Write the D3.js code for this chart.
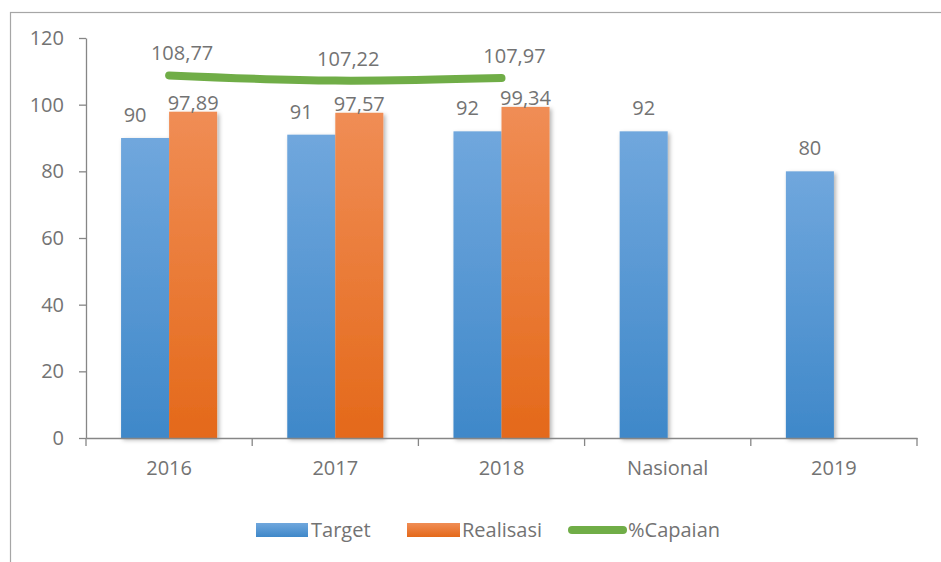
<!DOCTYPE html>
<html lang="id">
<head>
  <meta charset="UTF-8">
  <title>Target, Realisasi dan %Capaian</title>
  <script src="https://d3js.org/d3.v7.min.js"></script>
  <style>
    html, body { margin: 0; padding: 0; background: #fff; }
    svg text { font-family: "Open Sans", "Noto Sans", sans-serif; fill: #737373; }
  </style>
</head>
<body>
  <svg id="chart" width="941" height="562"></svg>
  <script>
    // data
    const categories = ['2016', '2017', '2018', 'Nasional', '2019'];
    const target = [90, 91, 92, 92, 80];
    const realisasi = [97.89, 97.57, 99.34, null, null];
    const capaian = [108.77, 107.22, 107.97, null, null];
    const yTicks = [0, 20, 40, 60, 80, 100, 120];
    const seriesNames = ['Target', 'Realisasi', '%Capaian'];

    const svg = d3.select('#chart');
    const plotLeft = 86, plotRight = 917, plotTop = 38, plotBottom = 438;
    const fs = 20;

    const locale = d3.formatLocale({ decimal: ',', thousands: '.', grouping: [3], currency: ['', ''] });
    const f2 = locale.format('.2f');
    const fmt = v => Number.isInteger(v) ? String(v) : f2(v);

    // bingkai grafik (terpotong di kanan dan bawah)
    svg.append('rect')
      .attr('x', 10.5).attr('y', 12.5).attr('width', 1000).attr('height', 1000)
      .attr('fill', 'none').attr('stroke', '#a6a6a6').attr('stroke-width', 1.2);

    const defs = svg.append('defs');
    const grad = (id, c1, c2) => {
      const g = defs.append('linearGradient').attr('id', id)
        .attr('x1', 0).attr('y1', 0).attr('x2', 0).attr('y2', 1);
      g.append('stop').attr('offset', '0%').attr('stop-color', c1);
      g.append('stop').attr('offset', '100%').attr('stop-color', c2);
    };
    grad('gBlue', '#70a7dd', '#3f88c9');
    grad('gOrange', '#f08d55', '#e4691a');
    defs.append('filter').attr('id', 'shadow')
      .attr('x', '-20%').attr('y', '-10%').attr('width', '150%').attr('height', '130%')
      .append('feDropShadow')
      .attr('dx', 2).attr('dy', 2).attr('stdDeviation', 2.2)
      .attr('flood-color', '#000').attr('flood-opacity', 0.3);

    const x0 = d3.scaleBand().domain(categories).range([plotLeft, plotRight]);
    const x1 = d3.scaleBand().domain(['t', 'r']).range([0, x0.bandwidth()])
      .paddingInner(0).paddingOuter(0.73);
    const y = d3.scaleLinear().domain([0, 120]).range([plotBottom, plotTop]);

    // sumbu Y
    const yAxis = svg.append('g')
      .attr('transform', `translate(${plotLeft},0)`)
      .call(d3.axisLeft(y).tickValues(yTicks).tickSize(7).tickSizeOuter(0).tickPadding(15));
    yAxis.select('.domain').attr('stroke', '#868686').attr('stroke-width', 1.3);
    yAxis.selectAll('.tick line').attr('stroke', '#868686').attr('stroke-width', 1.3);
    yAxis.selectAll('.tick text').attr('font-size', fs).attr('fill', '#737373')
      .style('font-family', '"Open Sans", sans-serif');

    // batang
    const rows = categories.map((c, i) => ({ c, t: target[i], r: realisasi[i] }));
    const gBars = svg.append('g').attr('filter', 'url(#shadow)');
    gBars.selectAll('rect.t').data(rows).join('rect').attr('class', 't')
      .attr('x', d => x0(d.c) + x1('t')).attr('width', x1.bandwidth())
      .attr('y', d => y(d.t)).attr('height', d => y(0) - y(d.t))
      .attr('fill', 'url(#gBlue)');
    gBars.selectAll('rect.r').data(rows.filter(d => d.r != null)).join('rect').attr('class', 'r')
      .attr('x', d => x0(d.c) + x1('r')).attr('width', x1.bandwidth())
      .attr('y', d => y(d.r)).attr('height', d => y(0) - y(d.r))
      .attr('fill', 'url(#gOrange)');

    // sumbu X
    const xAxis = svg.append('g')
      .attr('transform', `translate(0,${plotBottom})`)
      .call(d3.axisBottom(x0).tickSize(0).tickPadding(23));
    xAxis.select('.domain').attr('stroke', '#868686').attr('stroke-width', 1.3);
    xAxis.selectAll('.tick text').attr('font-size', fs).attr('fill', '#737373')
      .style('font-family', '"Open Sans", sans-serif');
    xAxis.selectAll('line.sep').data(categories.map(c => x0(c)).concat([plotRight])).join('line')
      .attr('class', 'sep')
      .attr('x1', d => d).attr('x2', d => d).attr('y1', 0).attr('y2', 8)
      .attr('stroke', '#868686').attr('stroke-width', 1.3);

    // label batang
    const gLab = svg.append('g').attr('font-size', fs).attr('text-anchor', 'middle');
    gLab.selectAll('text.lt').data(rows).join('text').attr('class', 'lt')
      .attr('x', d => x0(d.c) + x1('t') + x1.bandwidth() / 2 - (d.r != null ? 10 : 0))
      .attr('y', d => y(d.t) - 16)
      .text(d => fmt(d.t));
    gLab.selectAll('text.lr').data(rows.filter(d => d.r != null)).join('text').attr('class', 'lr')
      .attr('x', d => x0(d.c) + x1('r') + x1.bandwidth() / 2)
      .attr('y', d => y(d.r) - 2)
      .text(d => fmt(d.r));

    // garis %Capaian
    const pts = categories.map((c, i) => ({ c, v: capaian[i] })).filter(d => d.v != null);
    const cx = d => x0(d.c) + x0.bandwidth() / 2;
    svg.append('path').datum(pts)
      .attr('fill', 'none').attr('stroke', '#70ad47').attr('stroke-width', 8)
      .attr('stroke-linecap', 'round').attr('stroke-linejoin', 'round')
      .attr('d', d3.line().x(cx).y(d => y(d.v)).curve(d3.curveCatmullRom.alpha(0.5)));
    gLab.selectAll('text.lc').data(pts).join('text').attr('class', 'lc')
      .attr('x', d => cx(d) + 13)
      .attr('y', d => y(d.v) - 15)
      .text(d => fmt(d.v));

    // legenda
    const lg = svg.append('g').attr('font-size', fs);
    const lx = [256, 407, 568];
    lg.append('rect').attr('x', lx[0]).attr('y', 523).attr('width', 52).attr('height', 14).attr('fill', 'url(#gBlue)');
    lg.append('rect').attr('x', lx[1]).attr('y', 523).attr('width', 53).attr('height', 14).attr('fill', 'url(#gOrange)');
    lg.append('line').attr('x1', lx[2] + 4).attr('x2', lx[2] + 55).attr('y1', 530).attr('y2', 530)
      .attr('stroke', '#70ad47').attr('stroke-width', 8).attr('stroke-linecap', 'round');
    lg.selectAll('text').data(seriesNames).join('text')
      .attr('x', (d, i) => [311, 462, 628][i]).attr('y', 537)
      .text(d => d);
  </script>
</body>
</html>
